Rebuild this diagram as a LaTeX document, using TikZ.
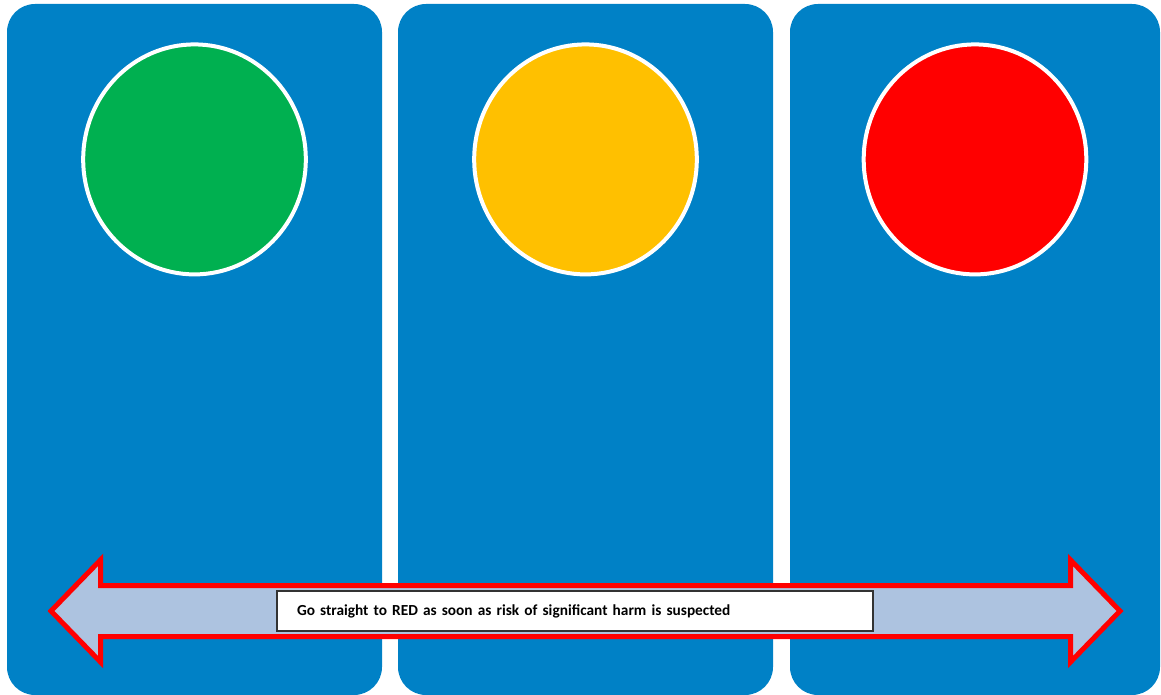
\documentclass[tikz,border=0pt]{standalone}
\usepackage{fontspec}
\setmainfont{Carlito}
\usepackage{tikz}
\usetikzlibrary{shapes.geometric,positioning}
\definecolor{panelblue}{RGB}{0,129,198}
\definecolor{lampgreen}{RGB}{0,176,80}
\definecolor{lampamber}{RGB}{255,192,0}
\definecolor{lampred}{RGB}{255,0,0}
\definecolor{arrowfill}{RGB}{173,195,224}

\begin{document}
\begin{tikzpicture}[x=0.75pt,y=-0.75pt,
    panel/.style={fill=panelblue,rounded corners=21pt,minimum width=281.25pt,
                  minimum height=518.25pt,inner sep=0pt},
    lamp/.style={ellipse,draw=white,line width=3pt,minimum width=167pt,
                 minimum height=172.5pt,inner sep=0pt},
    bar/.style={draw=lampred,fill=arrowfill,line width=3.75pt,miter limit=20},
    note/.style={draw=black!80,fill=white,line width=0.8pt,minimum height=30pt,
                 text width=417pt,inner xsep=15pt,align=left,
                 font=\fontsize{11.5}{13}\selectfont\bfseries},
  ]
    \useasboundingbox (0,0) rectangle (1161,695);
    % three panels
    \node[panel](p1) at (194.5,349.5){};
    \node[panel](p2) at (585.5,349.5){};
    \node[panel,minimum width=277.5pt](p3) at (975,349.5){};
    % lights
    \node[lamp,fill=lampgreen,below=29pt of p1.north](g){};
    \node[lamp,fill=lampamber,below=29pt of p2.north](a){};
    \node[lamp,fill=lampred,below=29pt of p3.north](r){};
    % double arrow along the bottom
    \draw[bar] (51,611) -- (100.5,560) -- (100.5,585.5) -- (1070.5,585.5)
      -- (1070.5,560) -- (1120,611) -- (1070.5,662) -- (1070.5,636.5)
      -- (100.5,636.5) -- (100.5,662) -- cycle;
    \node[note](msg) at (575,611){Go straight to RED as soon as risk of significant harm is suspected};
  \end{tikzpicture}
\end{document}
